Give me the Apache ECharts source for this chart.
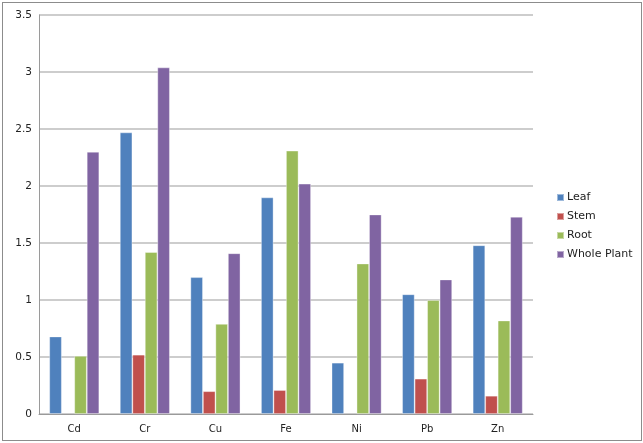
<!DOCTYPE html>
<html>
<head>
<meta charset="utf-8">
<script src="https://cdn.jsdelivr.net/npm/echarts@6/dist/echarts.min.js"></script>
<style>
  html, body { margin: 0; padding: 0; background: #fff; }
  #frame { position: absolute; left: 2px; top: 2px; width: 638px; height: 437px; border: 1px solid #8c8c8c; }
  #chart { position: absolute; left: 0; top: 0; width: 643px; height: 443px; }
</style>
</head>
<body>
<div id="frame"></div>
<div id="chart"></div>
<script>
// metals on the x axis
const metals = ["Cd", "Cr", "Cu", "Fe", "Ni", "Pb", "Zn"];

// values per plant part
const leaf = [0.68, 2.47, 1.2, 1.9, 0.45, 1.05, 1.48];
const stem = [null, 0.52, 0.2, 0.21, null, 0.31, 0.16];
const root = [0.51, 1.42, 0.79, 2.31, 1.32, 1.0, 0.82];
const wholePlant = [2.3, 3.04, 1.41, 2.02, 1.75, 1.18, 1.73];

const yTicks = [0, 0.5, 1, 1.5, 2, 2.5, 3, 3.5];

var myChart = echarts.init(document.getElementById("chart"));

function bar(name, data, color) {
  return {
    name: name,
    type: "bar",
    data: data,
    barGap: "0%",
    barWidth: 12.5,
    itemStyle: {
      color: color,
      borderColor: "rgba(255,255,255,0.45)",
      borderWidth: 0.8,
    },
  };
}

let option = {
  animation: false,
  textStyle: { fontFamily: "DejaVu Sans" },
  grid: { left: 39, right: 110, top: 15, bottom: 29 },
  legend: {
    orient: "vertical",
    left: 551,
    top: 187,
    itemWidth: 7,
    itemHeight: 7,
    itemGap: 8,
    icon: "rect",
    textStyle: { fontSize: 11, color: "#222", padding: [0, 0, 0, -2] },
    data: ["Leaf", "Stem", "Root", "Whole Plant"],
  },
  xAxis: {
    type: "category",
    data: metals,
    axisTick: { show: false },
    axisLine: { lineStyle: { color: "#9a9a9a", width: 1 } },
    axisLabel: { color: "#222", fontSize: 10, margin: 10 },
  },
  yAxis: {
    type: "value",
    min: 0,
    max: 3.5,
    interval: 0.5,
    axisLine: { show: true, lineStyle: { color: "#9a9a9a" } },
    axisTick: { show: false },
    axisLabel: {
      color: "#222",
      fontSize: 10.5,
      margin: 7,
      formatter: (v) => (yTicks.includes(v) ? String(v) : ""),
    },
    splitLine: { lineStyle: { color: "#bdbdbd", width: 1.5 } },
  },
  series: [
    bar("Leaf", leaf, "#4F81BD"),
    bar("Stem", stem, "#C0504D"),
    bar("Root", root, "#9BBB59"),
    bar("Whole Plant", wholePlant, "#8064A2"),
  ],
};

myChart.setOption(option);
</script>
</body>
</html>
